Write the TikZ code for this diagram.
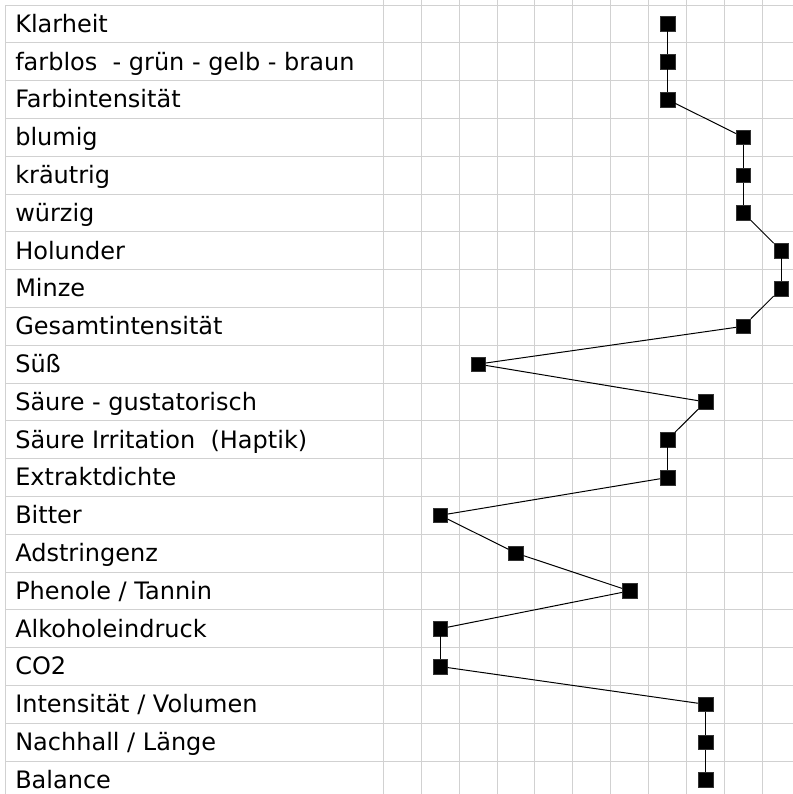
\documentclass[tikz,border=0pt]{standalone}
\usepackage{fontspec}
\setmainfont{DejaVu Sans}
\begin{document}
\begin{tikzpicture}[x=0.75pt, y=-0.75pt,
    gridline/.style={draw=black!18, line width=0.75pt},
    pointbox/.style={rectangle, fill=black, draw=black!80, line width=0.3pt, minimum size=11pt, inner sep=0pt},
    rowlabel/.style={anchor=base west, inner sep=0pt, font=\fontsize{18}{20}\selectfont}]
    \useasboundingbox (0,0) rectangle (793,794);

    % Grid
    \foreach \i in {0,...,21} \draw[gridline] (5,{5+37.8*\i}) -- (793,{5+37.8*\i});
    \draw[gridline] (5,5) -- (5,794);
    \foreach \k in {0,...,10} \draw[gridline] ({383.3+37.9*\k},0) -- ({383.3+37.9*\k},794);

    % Row labels
    \foreach \t [count=\i] in {{Klarheit},{farblos\ \ - grün - gelb - braun},{Farbintensität},
        {blumig},{kräutrig},{würzig},{Holunder},{Minze},{Gesamtintensität},{Süß},
        {Säure - gustatorisch},{Säure Irritation\ \ (Haptik)},{Extraktdichte},{Bitter},
        {Adstringenz},{Phenole / Tannin},{Alkoholeindruck},{CO2},
        {Intensität / Volumen},{Nachhall / Länge},{Balance}}
        \node[rowlabel] (l\i) at (15,{5+37.8*\i-10.5}) {\t};

    % Profile points
    \foreach \c [count=\i] in {7,7,7,9,9,9,10,10,9,2,8,7,7,1,3,6,1,1,8,8,8}
        \node[pointbox] (m\i) at ({383.3+37.9*(\c+0.5)},{5+37.8*(\i-0.5)}) {};

    % Profile line
    \foreach \i [remember=\i as \j (initially 1)] in {2,...,21}
        \draw[line width=0.75pt] (m\j) -- (m\i);
\end{tikzpicture}
\end{document}
